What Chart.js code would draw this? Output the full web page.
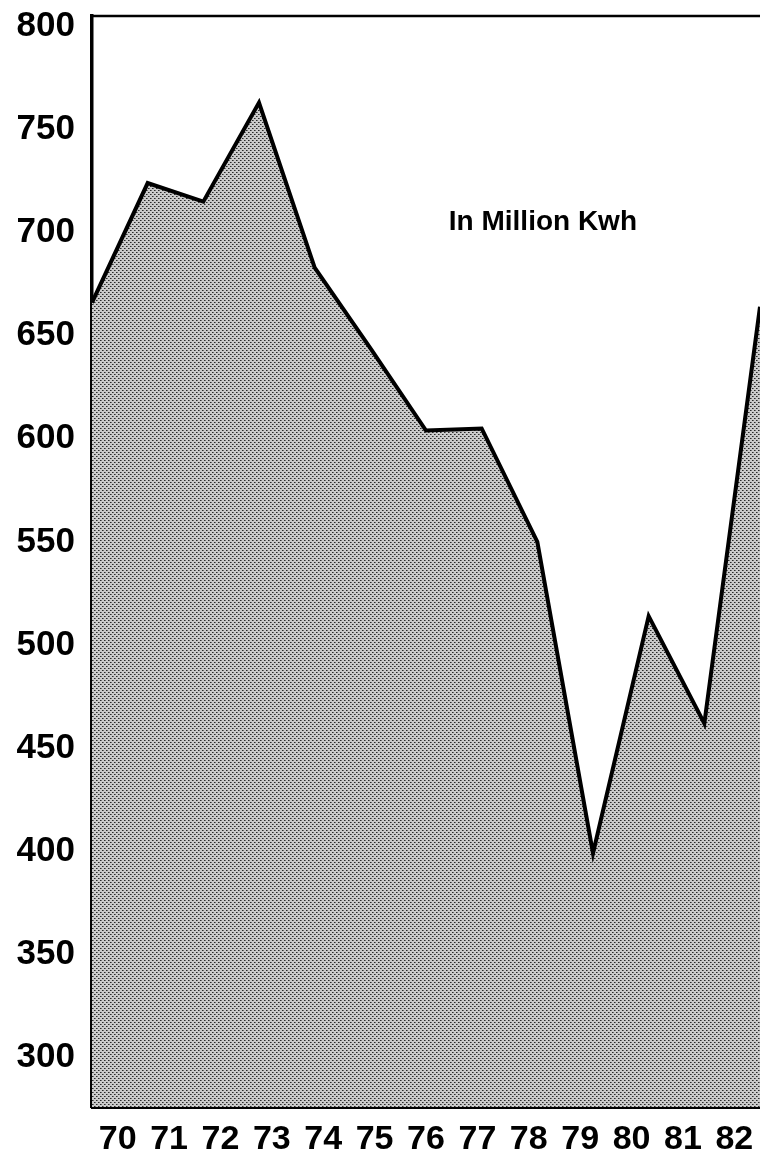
<!DOCTYPE html>
<html>
<head>
<meta charset="utf-8">
<script src="https://cdn.jsdelivr.net/npm/chart.js@4"></script>
<style>
  html, body { margin: 0; padding: 0; background: #fff; }
  #wrap { width: 760px; height: 1158px; position: relative; }
</style>
</head>
<body>
<div id="wrap"><canvas id="kwhChart"></canvas></div>
<script>
// values
const years = ['70', '71', '72', '73', '74', '75', '76', '77', '78', '79', '80', '81', '82'];
const kwh = [666, 724, 715, 763, 683, 644, 604, 605, 550, 399, 514, 462, 664];
const yTicks = [300, 350, 400, 450, 500, 550, 600, 650, 700, 750, 800];

// halftone fill like the printed screen
function halftone() {
    const c = document.createElement('canvas');
    c.width = 4; c.height = 4;
    const g = c.getContext('2d');
    g.fillStyle = '#cacaca';
    g.fillRect(0, 0, 4, 4);
    g.fillStyle = '#2a2a2a';
    g.fillRect(0, 0, 1, 1);
    g.fillRect(2, 2, 1, 1);
    g.fillStyle = '#707070';
    g.fillRect(1, 0, 1, 1);
    g.fillRect(3, 2, 1, 1);
    return g.createPattern(c, 'repeat');
}

const frame = {
    id: 'frame',
    afterDraw(chart) {
        const { ctx, chartArea, scales } = chart;
        ctx.save();
        ctx.strokeStyle = '#000';
        ctx.lineWidth = 2.5;
        ctx.beginPath();
        ctx.moveTo(chartArea.left, chartArea.top);
        ctx.lineTo(chart.width, chartArea.top);
        ctx.stroke();
        ctx.fillStyle = '#000';
        ctx.font = 'bold 28px "Liberation Sans", Arial, sans-serif';
        ctx.textAlign = 'center';
        ctx.textBaseline = 'middle';
        ctx.fillText('In Million Kwh', scales.x.getPixelForValue(8.1), scales.y.getPixelForValue(705));
        ctx.restore();
    }
};

const ctx = document.getElementById('kwhChart').getContext('2d');
const kwhChart = new Chart(ctx, {
    type: 'line',
    data: {
        labels: years,
        datasets: [{
            data: kwh,
            borderColor: '#000',
            borderWidth: 4,
            backgroundColor: halftone(),
            fill: 'start',
            pointRadius: 0,
            tension: 0,
            xAxisID: 'x'
        }]
    },
    options: {
        responsive: true,
        maintainAspectRatio: false,
        animation: false,
        layout: { padding: { top: 16, right: 0, left: 0, bottom: 0 } },
        plugins: {
            legend: { display: false },
            tooltip: { enabled: false }
        },
        scales: {
            x: {
                type: 'category',
                display: false,
                offset: false
            },
            xl: {
                type: 'category',
                labels: years,
                position: 'bottom',
                offset: true,
                grid: { display: false, drawTicks: false },
                border: { display: true, color: '#000', width: 3 },
                ticks: {
                    color: '#000',
                    padding: 12,
                    maxRotation: 0,
                    autoSkip: false,
                    font: { family: '"Liberation Sans Narrow", "Liberation Sans", Arial, sans-serif', weight: 'bold', size: 34 }
                },
                afterFit(scale) {
                    scale.height = 51;
                    scale.paddingLeft = 0;
                    scale.paddingRight = 0;
                }
            },
            y: {
                min: 276,
                max: 805,
                grid: { display: false, drawTicks: false },
                border: { display: true, color: '#000', width: 3.5 },
                afterBuildTicks(axis) {
                    axis.ticks = yTicks.map(v => ({ value: v }));
                },
                ticks: {
                    color: '#000',
                    padding: 17,
                    font: { family: '"Liberation Sans", Arial, sans-serif', weight: 'bold', size: 35 }
                },
                afterFit(scale) {
                    scale.width = 92;
                    scale.paddingTop = 0;
                    scale.paddingBottom = 0;
                }
            }
        }
    },
    plugins: [frame]
});
</script>
</body>
</html>
